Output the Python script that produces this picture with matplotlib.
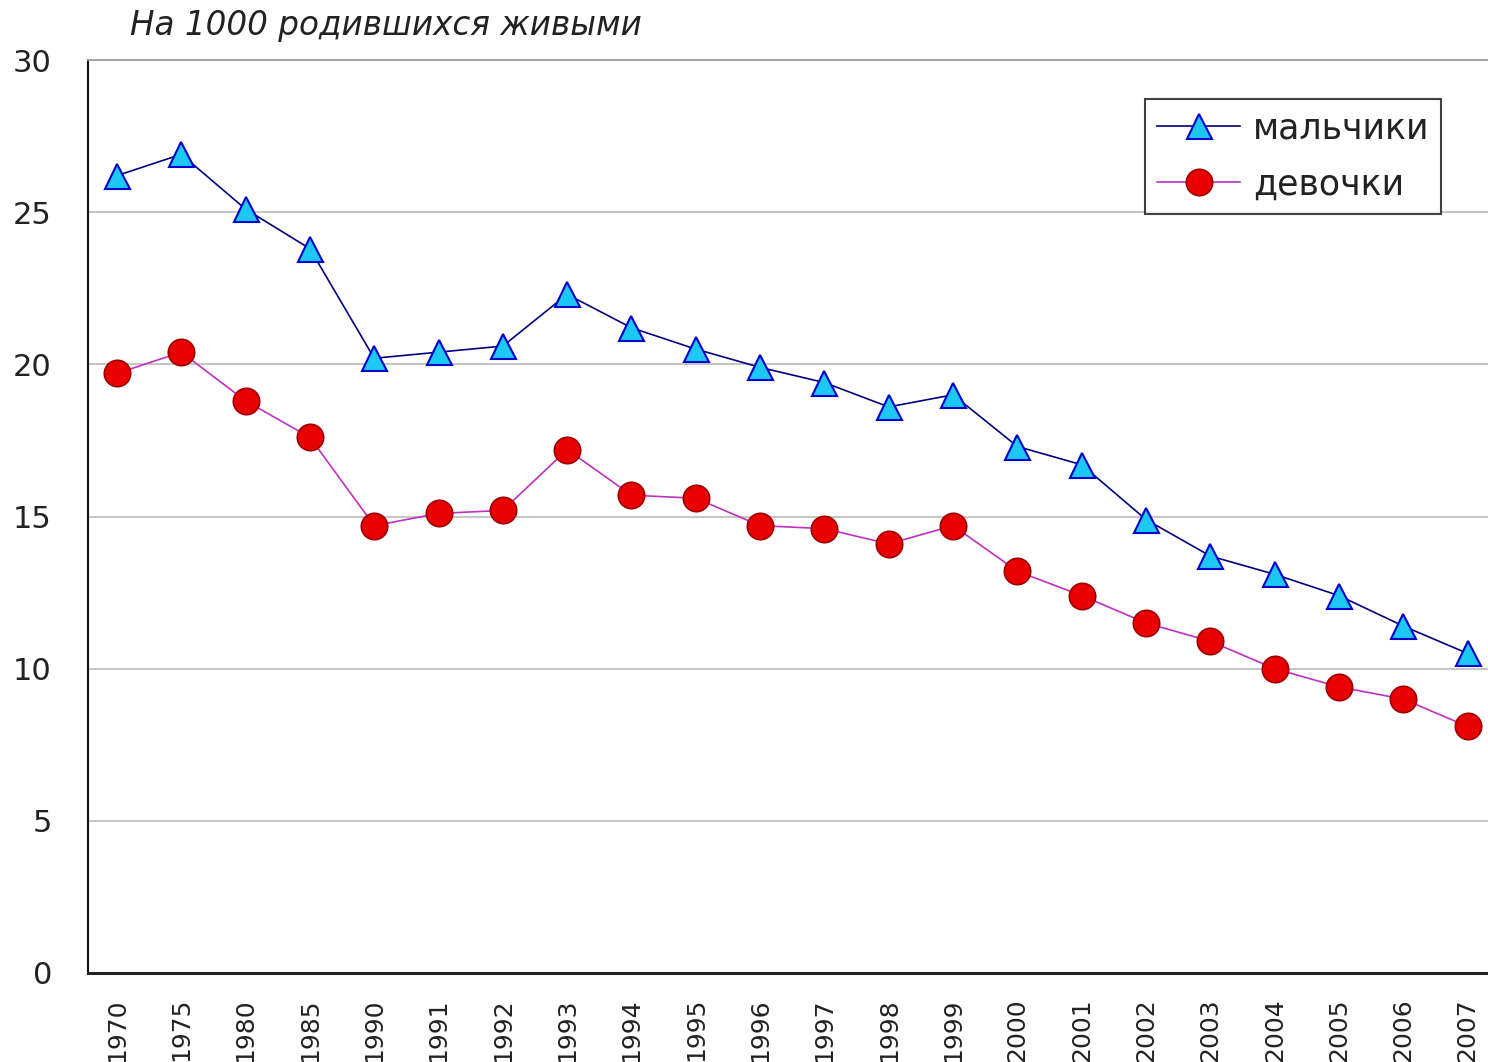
import matplotlib
matplotlib.use("Agg")
import matplotlib.pyplot as plt
import numpy as np

years = ["1970", "1975", "1980", "1985", "1990", "1991", "1992", "1993", "1994",
         "1995", "1996", "1997", "1998", "1999", "2000", "2001", "2002", "2003",
         "2004", "2005", "2006", "2007"]
boys = [26.2, 26.9, 25.1, 23.8, 20.2, 20.4, 20.6, 22.3, 21.2, 20.5, 19.9,
        19.4, 18.6, 19.0, 17.3, 16.7, 14.9, 13.7, 13.1, 12.4, 11.4, 10.5]
girls = [19.7, 20.4, 18.8, 17.6, 14.7, 15.1, 15.2, 17.2, 15.7, 15.6, 14.7,
         14.6, 14.1, 14.7, 13.2, 12.4, 11.5, 10.9, 10.0, 9.4, 9.0, 8.1]
yticks = [0, 5, 10, 15, 20, 25, 30]

plt.rcParams['font.family'] = ['DejaVu Sans']

fig = plt.figure(figsize=(14.88, 10.62), dpi=100)
ax = fig.add_axes([88 / 1488, 89 / 1062, 1415 / 1488, 913 / 1062])

x = np.arange(len(years))
ax.plot(x, boys, color="#000080", linewidth=1.2, marker="^", markersize=18,
        markerfacecolor="#1EC8F5", markeredgecolor="#0000CC", markeredgewidth=1.5,
        label="мальчики", zorder=3)
ax.plot(x, girls, color="#C030C0", linewidth=1.2, marker="o", markersize=19,
        markerfacecolor="#E80000", markeredgecolor="#A00000", markeredgewidth=1.2,
        label="девочки", zorder=3)

ax.set_xlim(-0.45, len(years) - 0.45)
ax.set_ylim(0, 30)
ax.set_yticks(yticks)
ax.set_yticklabels([str(v) for v in yticks], fontsize=22, color="#222222")
ax.set_xticks(x)
ax.set_xticklabels(years, rotation=90, fontsize=18, color="#222222")
ax.tick_params(axis="both", length=0)
ax.tick_params(axis="y", pad=26)
ax.tick_params(axis="x", pad=18)

ax.grid(axis="y", color="#C0C0C0", linewidth=1.3)
ax.set_axisbelow(True)
ax.spines["right"].set_visible(False)
ax.spines["top"].set_color("#A0A0A0")
ax.spines["top"].set_linewidth(1.3)
ax.spines["left"].set_color("#111111")
ax.spines["left"].set_linewidth(1.5)
ax.spines["bottom"].set_color("#222222")
ax.spines["bottom"].set_linewidth(2.2)

leg = ax.legend(loc="upper left", bbox_to_anchor=(1145 / 1488, (1062 - 99) / 1062),
                bbox_transform=fig.transFigure, fontsize=25, frameon=True,
                fancybox=False, handlelength=2.4, handletextpad=0.35,
                borderpad=0.35, labelspacing=0.64, borderaxespad=0)
leg.get_frame().set_edgecolor("#111111")
leg.get_frame().set_linewidth(1.5)
for t in leg.get_texts():
    t.set_color("#222222")

fig.text(130 / 1488, (1062 - 26) / 1062, "На 1000 родившихся живыми",
         fontsize=23.5, style="italic", color="#222222", va="center", ha="left")

fig.savefig("out.png", dpi=100)
